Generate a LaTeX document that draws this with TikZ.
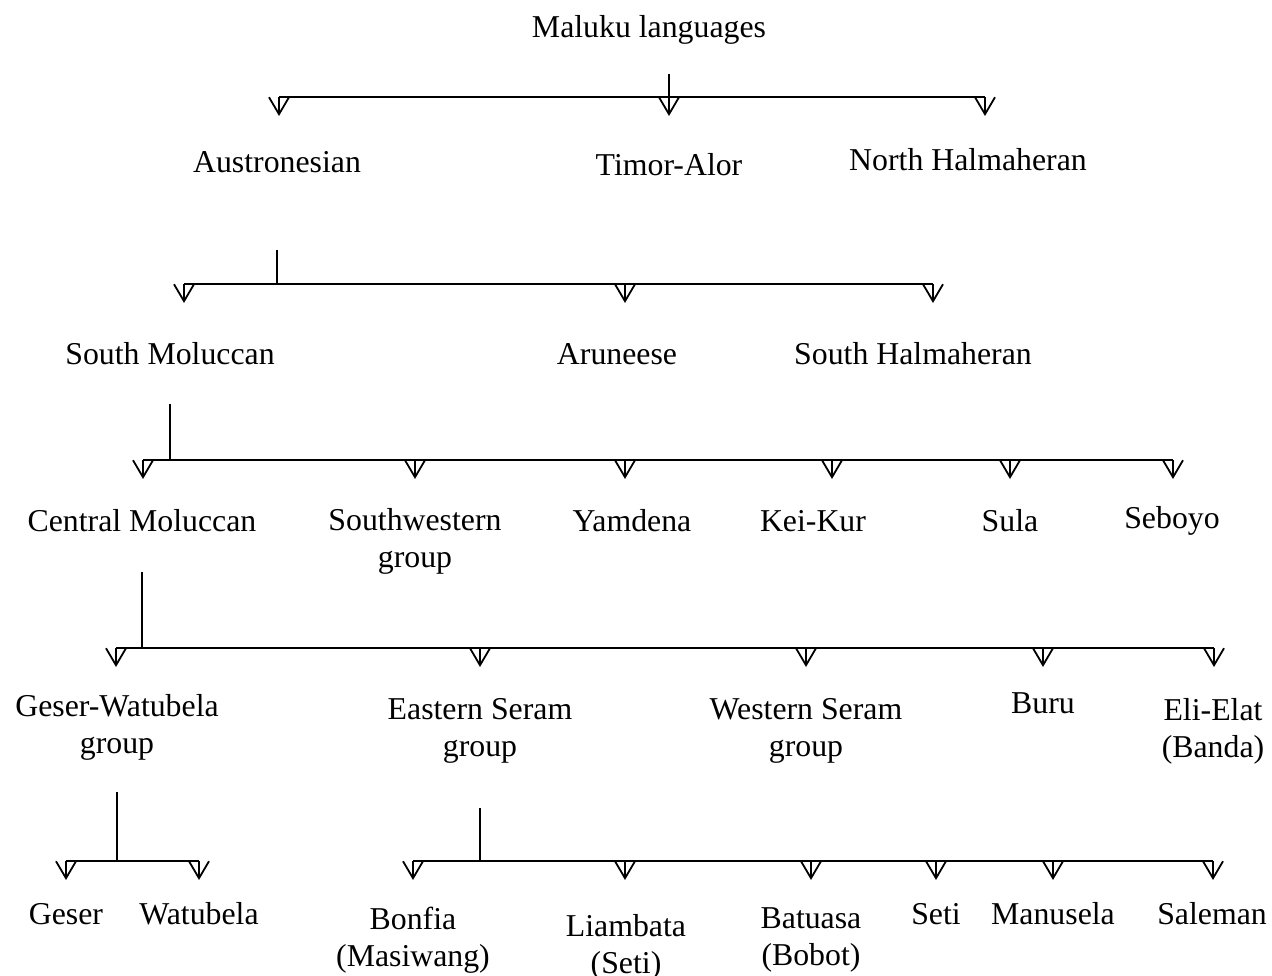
\documentclass[tikz,border=0pt]{standalone}
\usepackage{fontspec}
\setmainfont{Liberation Serif}
\usetikzlibrary{arrows.meta}
\tikzset{
  lang/.style={align=center, inner sep=0pt, font=\fontsize{31.8}{37}\selectfont},
  bar/.style={line width=1.8pt, black},
  thickbar/.style={line width=2.8pt, black},
  drop/.style={line width=1.8pt, black, -{Straight Barb[length=17pt, width=20pt, line width=1.8pt]}},
}
\begin{document}
\begin{tikzpicture}[x=1pt, y=-1pt]
\useasboundingbox (0,0) rectangle (1272,976);

% language names
\node[lang] (maluku) at (649,30) {Maluku languages};
\node[lang] (austro) at (277,162) {Austronesian};
\node[lang] (timor) at (669,165) {Timor-Alor};
\node[lang] (nhal) at (968,160) {North Halmaheran};
\node[lang] (smol) at (170,354) {South Moluccan};
\node[lang] (arun) at (617,354) {Aruneese};
\node[lang] (shal) at (913,354) {South Halmaheran};
\node[lang] (cmol) at (142,521) {Central Moluccan};
\node[lang] (swg) at (415,541) {Southwestern\\group};
\node[lang] (yamd) at (632,521) {Yamdena};
\node[lang] (kei) at (813,521) {Kei-Kur};
\node[lang] (sula) at (1010,521) {Sula};
\node[lang] (sebo) at (1172,521) {Seboyo};
\node[lang] (gw) at (117,727) {Geser-Watubela\\group};
\node[lang] (eseram) at (480,731) {Eastern Seram\\group};
\node[lang] (wseram) at (806,731) {Western Seram\\group};
\node[lang] (buru) at (1043,703) {Buru};
\node[lang] (eli) at (1213,731) {Eli-Elat\\(Banda)};
\node[lang] (geser) at (66,914) {Geser};
\node[lang] (watu) at (199,914) {Watubela};
\node[lang] (bonf) at (413,940) {Bonfia\\(Masiwang)};
\node[lang] (liam) at (626,947) {Liambata\\(Seti)};
\node[lang] (batu) at (811,940) {Batuasa\\(Bobot)};
\node[lang] (seti) at (936,914) {Seti};
\node[lang] (manu) at (1053,914) {Manusela};
\node[lang] (sale) at (1212,914) {Saleman};

% branch levels
\coordinate (r1) at (0,97);
\coordinate (r2) at (0,284);
\coordinate (r3) at (0,460);
\coordinate (r4) at (0,648);
\coordinate (r5) at (0,861);

% arrow ends above each name
\coordinate (austro-in) at (279,116);
\coordinate (timor-in) at (669,116);
\coordinate (nhal-in) at (985,116);
\coordinate (smol-in) at (184,303);
\coordinate (arun-in) at (625,303);
\coordinate (shal-in) at (933,303);
\coordinate (cmol-in) at (143,479);
\coordinate (swg-in) at (415,479);
\coordinate (yamd-in) at (625,479);
\coordinate (kei-in) at (832,479);
\coordinate (sula-in) at (1010,479);
\coordinate (sebo-in) at (1173,479);
\coordinate (gw-in) at (116,667);
\coordinate (eseram-in) at (480,667);
\coordinate (wseram-in) at (806,667);
\coordinate (buru-in) at (1043,667);
\coordinate (eli-in) at (1214,667);
\coordinate (geser-in) at (66,880);
\coordinate (watu-in) at (199,880);
\coordinate (bonf-in) at (413,880);
\coordinate (liam-in) at (625,880);
\coordinate (batu-in) at (811,880);
\coordinate (seti-in) at (936,880);
\coordinate (manu-in) at (1053,880);
\coordinate (sale-in) at (1213,880);

% Maluku languages
\draw[drop] (timor-in |- 0,74) -- (timor-in);
\draw[bar] (austro-in |- r1) -- (nhal-in |- r1);
\draw[drop] (austro-in |- r1) -- (austro-in);
\draw[drop] (nhal-in |- r1) -- (nhal-in);

% Austronesian
\draw[bar] (austro |- 0,250) -- (austro |- r2);
\draw[bar] (smol-in |- r2) -- (shal-in |- r2);
\draw[drop] (smol-in |- r2) -- (smol-in);
\draw[drop] (arun-in |- r2) -- (arun-in);
\draw[drop] (shal-in |- r2) -- (shal-in);

% South Moluccan
\draw[bar] (smol |- 0,404) -- (smol |- r3);
\draw[bar] (cmol-in |- r3) -- (sebo-in |- r3);
\draw[thickbar] (smol |- r3) -- (sula-in |- r3);
\draw[drop] (cmol-in |- r3) -- (cmol-in);
\draw[drop] (swg-in |- r3) -- (swg-in);
\draw[drop] (yamd-in |- r3) -- (yamd-in);
\draw[drop] (kei-in |- r3) -- (kei-in);
\draw[drop] (sula-in |- r3) -- (sula-in);
\draw[drop] (sebo-in |- r3) -- (sebo-in);

% Central Moluccan
\draw[bar] (cmol |- 0,572) -- (cmol |- r4);
\draw[bar] (gw-in |- r4) -- (eli-in |- r4);
\draw[thickbar] (cmol |- r4) -- (969,648);
\draw[drop] (gw-in |- r4) -- (gw-in);
\draw[drop] (eseram-in |- r4) -- (eseram-in);
\draw[drop] (wseram-in |- r4) -- (wseram-in);
\draw[drop] (buru-in |- r4) -- (buru-in);
\draw[drop] (eli-in |- r4) -- (eli-in);

% Geser-Watubela group
\draw[bar] (gw |- 0,792) -- (gw |- r5);
\draw[bar] (geser-in |- r5) -- (watu-in |- r5);
\draw[drop] (geser-in |- r5) -- (geser-in);
\draw[drop] (watu-in |- r5) -- (watu-in);

% Eastern Seram group
\draw[bar] (eseram |- 0,808) -- (eseram |- r5);
\draw[bar] (bonf-in |- r5) -- (sale-in |- r5);
\draw[thickbar] (eseram |- r5) -- (seti-in |- r5);
\draw[drop] (bonf-in |- r5) -- (bonf-in);
\draw[drop] (liam-in |- r5) -- (liam-in);
\draw[drop] (batu-in |- r5) -- (batu-in);
\draw[drop] (seti-in |- r5) -- (seti-in);
\draw[drop] (manu-in |- r5) -- (manu-in);
\draw[drop] (sale-in |- r5) -- (sale-in);
\end{tikzpicture}
\end{document}
